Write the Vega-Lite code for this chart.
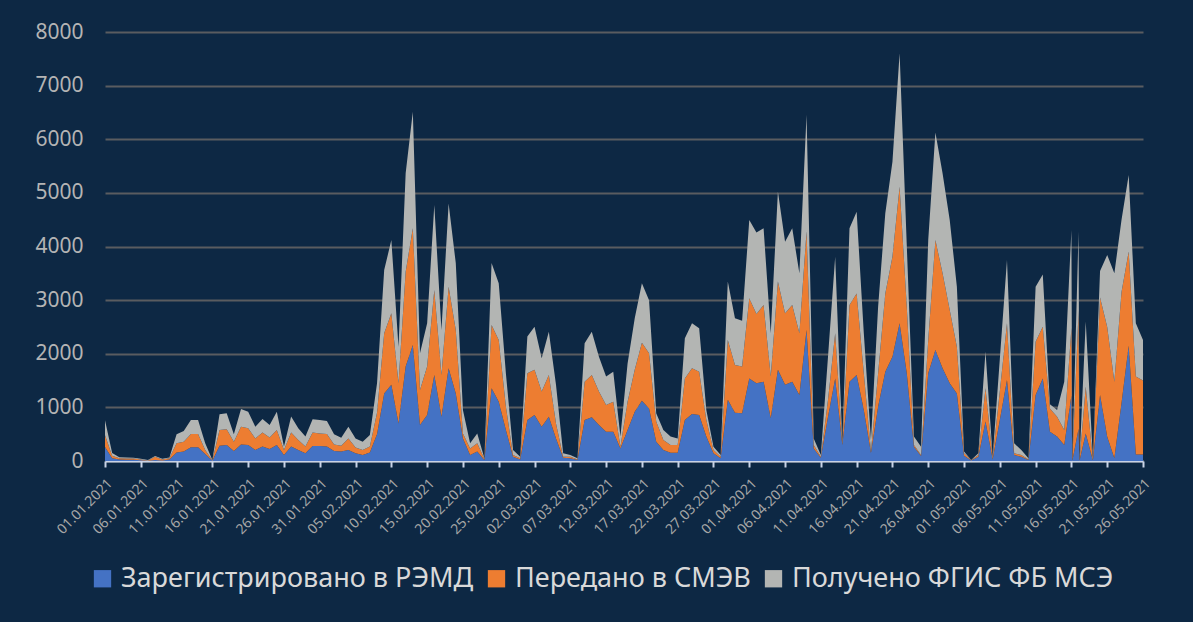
{
  "$schema": "https://vega.github.io/schema/vega-lite/v6.json",
  "width": 1038,
  "height": 429,
  "autosize": {"type": "none"},
  "padding": {"left": 105, "top": 32, "right": 50, "bottom": 161},
  "background": "#0D2844",
  "config": {
    "view": {"stroke": null},
    "font": "Noto Sans"
  },
  "data": {
    "values": [
      {"d":"2021-01-01","c":260,"b":220,"a":280},
      {"d":"2021-01-02","c":50,"b":50,"a":50},
      {"d":"2021-01-03","c":30,"b":20,"a":20},
      {"d":"2021-01-04","c":25,"b":20,"a":20},
      {"d":"2021-01-05","c":25,"b":20,"a":15},
      {"d":"2021-01-06","c":15,"b":15,"a":10},
      {"d":"2021-01-07","c":5,"b":5,"a":10},
      {"d":"2021-01-08","c":20,"b":60,"a":15},
      {"d":"2021-01-09","c":10,"b":20,"a":10},
      {"d":"2021-01-10","c":30,"b":20,"a":15},
      {"d":"2021-01-11","c":160,"b":170,"a":170},
      {"d":"2021-01-12","c":175,"b":185,"a":200},
      {"d":"2021-01-13","c":255,"b":250,"a":260},
      {"d":"2021-01-14","c":255,"b":250,"a":260},
      {"d":"2021-01-15","c":130,"b":75,"a":125},
      {"d":"2021-01-16","c":5,"b":5,"a":10},
      {"d":"2021-01-17","c":285,"b":295,"a":290},
      {"d":"2021-01-18","c":300,"b":290,"a":300},
      {"d":"2021-01-19","c":185,"b":175,"a":140},
      {"d":"2021-01-20","c":310,"b":330,"a":330},
      {"d":"2021-01-21","c":300,"b":310,"a":310},
      {"d":"2021-01-22","c":205,"b":215,"a":220},
      {"d":"2021-01-23","c":270,"b":260,"a":255},
      {"d":"2021-01-24","c":225,"b":215,"a":230},
      {"d":"2021-01-25","c":300,"b":280,"a":340},
      {"d":"2021-01-26","c":110,"b":95,"a":65},
      {"d":"2021-01-27","c":270,"b":260,"a":300},
      {"d":"2021-01-28","c":205,"b":185,"a":220},
      {"d":"2021-01-29","c":145,"b":125,"a":185},
      {"d":"2021-01-30","c":280,"b":250,"a":250},
      {"d":"2021-01-31","c":280,"b":235,"a":250},
      {"d":"2021-02-01","c":270,"b":235,"a":240},
      {"d":"2021-02-02","c":185,"b":125,"a":190},
      {"d":"2021-02-03","c":175,"b":110,"a":150},
      {"d":"2021-02-04","c":205,"b":215,"a":220},
      {"d":"2021-02-05","c":145,"b":105,"a":170},
      {"d":"2021-02-06","c":110,"b":95,"a":155},
      {"d":"2021-02-07","c":160,"b":110,"a":215},
      {"d":"2021-02-08","c":500,"b":400,"a":550},
      {"d":"2021-02-09","c":1260,"b":1120,"a":1180},
      {"d":"2021-02-10","c":1420,"b":1335,"a":1365},
      {"d":"2021-02-11","c":700,"b":750,"a":680},
      {"d":"2021-02-12","c":1760,"b":1770,"a":1835},
      {"d":"2021-02-13","c":2165,"b":2175,"a":2175},
      {"d":"2021-02-14","c":670,"b":655,"a":685},
      {"d":"2021-02-15","c":860,"b":900,"a":810},
      {"d":"2021-02-16","c":1605,"b":1585,"a":1585},
      {"d":"2021-02-17","c":825,"b":780,"a":840},
      {"d":"2021-02-18","c":1730,"b":1520,"a":1550},
      {"d":"2021-02-19","c":1260,"b":1185,"a":1245},
      {"d":"2021-02-20","c":420,"b":95,"a":435},
      {"d":"2021-02-21","c":110,"b":125,"a":95},
      {"d":"2021-02-22","c":175,"b":155,"a":185},
      {"d":"2021-02-23","c":20,"b":15,"a":15},
      {"d":"2021-02-24","c":1355,"b":1180,"a":1155},
      {"d":"2021-02-25","c":1105,"b":1150,"a":1060},
      {"d":"2021-02-26","c":580,"b":435,"a":620},
      {"d":"2021-02-27","c":80,"b":30,"a":95},
      {"d":"2021-02-28","c":30,"b":20,"a":30},
      {"d":"2021-03-01","c":765,"b":870,"a":685},
      {"d":"2021-03-02","c":860,"b":840,"a":805},
      {"d":"2021-03-03","c":640,"b":655,"a":620},
      {"d":"2021-03-04","c":825,"b":780,"a":805},
      {"d":"2021-03-05","c":420,"b":280,"a":720},
      {"d":"2021-03-06","c":60,"b":20,"a":65},
      {"d":"2021-03-07","c":50,"b":30,"a":30},
      {"d":"2021-03-08","c":20,"b":10,"a":20},
      {"d":"2021-03-09","c":765,"b":715,"a":715},
      {"d":"2021-03-10","c":815,"b":790,"a":805},
      {"d":"2021-03-11","c":670,"b":625,"a":650},
      {"d":"2021-03-12","c":545,"b":500,"a":530},
      {"d":"2021-03-13","c":545,"b":560,"a":560},
      {"d":"2021-03-14","c":235,"b":30,"a":190},
      {"d":"2021-03-15","c":580,"b":525,"a":715},
      {"d":"2021-03-16","c":920,"b":780,"a":960},
      {"d":"2021-03-17","c":1125,"b":1080,"a":1110},
      {"d":"2021-03-18","c":980,"b":1030,"a":990},
      {"d":"2021-03-19","c":360,"b":375,"a":155},
      {"d":"2021-03-20","c":205,"b":185,"a":190},
      {"d":"2021-03-21","c":155,"b":145,"a":155},
      {"d":"2021-03-22","c":155,"b":145,"a":120},
      {"d":"2021-03-23","c":765,"b":775,"a":750},
      {"d":"2021-03-24","c":875,"b":855,"a":840},
      {"d":"2021-03-25","c":860,"b":805,"a":810},
      {"d":"2021-03-26","c":455,"b":310,"a":185},
      {"d":"2021-03-27","c":145,"b":60,"a":60},
      {"d":"2021-03-28","c":50,"b":30,"a":30},
      {"d":"2021-03-29","c":1140,"b":1115,"a":1090},
      {"d":"2021-03-30","c":900,"b":890,"a":870},
      {"d":"2021-03-31","c":890,"b":870,"a":855},
      {"d":"2021-04-01","c":1540,"b":1495,"a":1460},
      {"d":"2021-04-02","c":1450,"b":1290,"a":1520},
      {"d":"2021-04-03","c":1480,"b":1430,"a":1430},
      {"d":"2021-04-04","c":795,"b":780,"a":805},
      {"d":"2021-04-05","c":1700,"b":1645,"a":1680},
      {"d":"2021-04-06","c":1420,"b":1335,"a":1335},
      {"d":"2021-04-07","c":1480,"b":1430,"a":1430},
      {"d":"2021-04-08","c":1230,"b":1150,"a":1120},
      {"d":"2021-04-09","c":2445,"b":1835,"a":2175},
      {"d":"2021-04-10","c":235,"b":65,"a":120},
      {"d":"2021-04-11","c":60,"b":20,"a":30},
      {"d":"2021-04-12","c":825,"b":315,"a":810},
      {"d":"2021-04-13","c":1540,"b":840,"a":1430},
      {"d":"2021-04-14","c":300,"b":20,"a":20},
      {"d":"2021-04-15","c":1480,"b":1430,"a":1430},
      {"d":"2021-04-16","c":1605,"b":1520,"a":1525},
      {"d":"2021-04-17","c":950,"b":685,"a":745},
      {"d":"2021-04-18","c":150,"b":25,"a":215},
      {"d":"2021-04-19","c":1015,"b":620,"a":1245},
      {"d":"2021-04-20","c":1665,"b":1460,"a":1495},
      {"d":"2021-04-21","c":1945,"b":1865,"a":1770},
      {"d":"2021-04-22","c":2570,"b":2545,"a":2490},
      {"d":"2021-04-23","c":1635,"b":1245,"a":1150},
      {"d":"2021-04-24","c":265,"b":35,"a":155},
      {"d":"2021-04-25","c":95,"b":15,"a":155},
      {"d":"2021-04-26","c":1635,"b":620,"a":1865},
      {"d":"2021-04-27","c":2070,"b":2050,"a":2005},
      {"d":"2021-04-28","c":1730,"b":1770,"a":1865},
      {"d":"2021-04-29","c":1450,"b":1365,"a":1680},
      {"d":"2021-04-30","c":1260,"b":870,"a":1120},
      {"d":"2021-05-01","c":100,"b":45,"a":30},
      {"d":"2021-05-02","c":10,"b":5,"a":5},
      {"d":"2021-05-03","c":80,"b":30,"a":35},
      {"d":"2021-05-04","c":735,"b":620,"a":685},
      {"d":"2021-05-05","c":30,"b":30,"a":20},
      {"d":"2021-05-06","c":765,"b":535,"a":600},
      {"d":"2021-05-07","c":1510,"b":1060,"a":1180},
      {"d":"2021-05-08","c":110,"b":35,"a":185},
      {"d":"2021-05-09","c":80,"b":30,"a":95},
      {"d":"2021-05-10","c":20,"b":10,"a":20},
      {"d":"2021-05-11","c":1230,"b":995,"a":1025},
      {"d":"2021-05-12","c":1540,"b":965,"a":975},
      {"d":"2021-05-13","c":545,"b":435,"a":80},
      {"d":"2021-05-14","c":455,"b":370,"a":125},
      {"d":"2021-05-15","c":300,"b":280,"a":900},
      {"d":"2021-05-16","c":1220,"b":1260,"a":1830},
      {"d":"2021-05-16T03:00:00Z","c":0,"b":0,"a":0},
      {"d":"2021-05-17","c":600,"b":2200,"a":1480},
      {"d":"2021-05-17T03:00:00Z","c":0,"b":0,"a":0},
      {"d":"2021-05-18","c":515,"b":870,"a":1215},
      {"d":"2021-05-19","c":10,"b":20,"a":20},
      {"d":"2021-05-20","c":1230,"b":1820,"a":495},
      {"d":"2021-05-21","c":450,"b":2050,"a":1340},
      {"d":"2021-05-22","c":50,"b":1430,"a":2020},
      {"d":"2021-05-23","c":1080,"b":2070,"a":1350},
      {"d":"2021-05-24","c":2150,"b":1755,"a":1430},
      {"d":"2021-05-25","c":120,"b":1455,"a":995},
      {"d":"2021-05-26","c":120,"b":1380,"a":755}
    ]
  },
  "transform": [
    {"fold": ["c", "b", "a"], "as": ["series", "value"]}
  ],
  "mark": {"type": "area", "interpolate": "linear", "opacity": 1},
  "encoding": {
    "x": {
      "field": "d",
      "type": "temporal",
      "scale": {
        "type": "utc",
        "nice": false,
        "domain": [
          {"year": 2021, "month": 1, "date": 1, "utc": true},
          {"year": 2021, "month": 5, "date": 26, "utc": true}
        ]
      },
      "axis": {
        "title": null,
        "grid": false,
        "format": "%d.%m.%Y",
        "labelAngle": -45,
        "labelFontSize": 14,
        "labelColor": "#A6A6A6",
        "labelPadding": 9,
        "labelOverlap": false,
        "labelFlush": false,
        "domainColor": "#C9D3E6",
        "domainWidth": 2,
        "tickColor": "#C9D3E6",
        "tickWidth": 2,
        "tickSize": 6,
        "values": [
          {"year": 2021, "month": 1, "date": 1, "utc": true},
          {"year": 2021, "month": 1, "date": 6, "utc": true},
          {"year": 2021, "month": 1, "date": 11, "utc": true},
          {"year": 2021, "month": 1, "date": 16, "utc": true},
          {"year": 2021, "month": 1, "date": 21, "utc": true},
          {"year": 2021, "month": 1, "date": 26, "utc": true},
          {"year": 2021, "month": 1, "date": 31, "utc": true},
          {"year": 2021, "month": 2, "date": 5, "utc": true},
          {"year": 2021, "month": 2, "date": 10, "utc": true},
          {"year": 2021, "month": 2, "date": 15, "utc": true},
          {"year": 2021, "month": 2, "date": 20, "utc": true},
          {"year": 2021, "month": 2, "date": 25, "utc": true},
          {"year": 2021, "month": 3, "date": 2, "utc": true},
          {"year": 2021, "month": 3, "date": 7, "utc": true},
          {"year": 2021, "month": 3, "date": 12, "utc": true},
          {"year": 2021, "month": 3, "date": 17, "utc": true},
          {"year": 2021, "month": 3, "date": 22, "utc": true},
          {"year": 2021, "month": 3, "date": 27, "utc": true},
          {"year": 2021, "month": 4, "date": 1, "utc": true},
          {"year": 2021, "month": 4, "date": 6, "utc": true},
          {"year": 2021, "month": 4, "date": 11, "utc": true},
          {"year": 2021, "month": 4, "date": 16, "utc": true},
          {"year": 2021, "month": 4, "date": 21, "utc": true},
          {"year": 2021, "month": 4, "date": 26, "utc": true},
          {"year": 2021, "month": 5, "date": 1, "utc": true},
          {"year": 2021, "month": 5, "date": 6, "utc": true},
          {"year": 2021, "month": 5, "date": 11, "utc": true},
          {"year": 2021, "month": 5, "date": 16, "utc": true},
          {"year": 2021, "month": 5, "date": 21, "utc": true},
          {"year": 2021, "month": 5, "date": 26, "utc": true}
        ]
      }
    },
    "y": {
      "field": "value",
      "type": "quantitative",
      "stack": "zero",
      "scale": {"domain": [0, 8000], "nice": false},
      "axis": {
        "title": null,
        "values": [0, 1000, 2000, 3000, 4000, 5000, 6000, 7000, 8000],
        "format": "d",
        "domain": false,
        "ticks": false,
        "labelFontSize": 21,
        "labelColor": "#B4B4B4",
        "labelPadding": 22,
        "gridColor": "#5A5C60",
        "gridWidth": 2
      }
    },
    "color": {
      "field": "series",
      "type": "nominal",
      "sort": ["c", "b", "a"],
      "scale": {"domain": ["c", "b", "a"], "range": ["#4472C4", "#ED7D31", "#B3B5B3"]},
      "legend": {
        "title": null,
        "orient": "none",
        "legendX": -16,
        "legendY": 533,
        "direction": "horizontal",
        "symbolType": "square",
        "symbolSize": 300,
        "symbolStrokeWidth": 0,
        "symbolOpacity": 1,
        "labelFontSize": 27,
        "labelColor": "#D9D9D9",
        "labelOffset": 5,
        "columnPadding": 9,
        "labelLimit": 500,
        "labelExpr": "datum.value == 'c' ? 'Зарегистрировано в РЭМД' : datum.value == 'b' ? 'Передано в СМЭВ' : 'Получено ФГИС ФБ МСЭ'"
      }
    }
  }
}
